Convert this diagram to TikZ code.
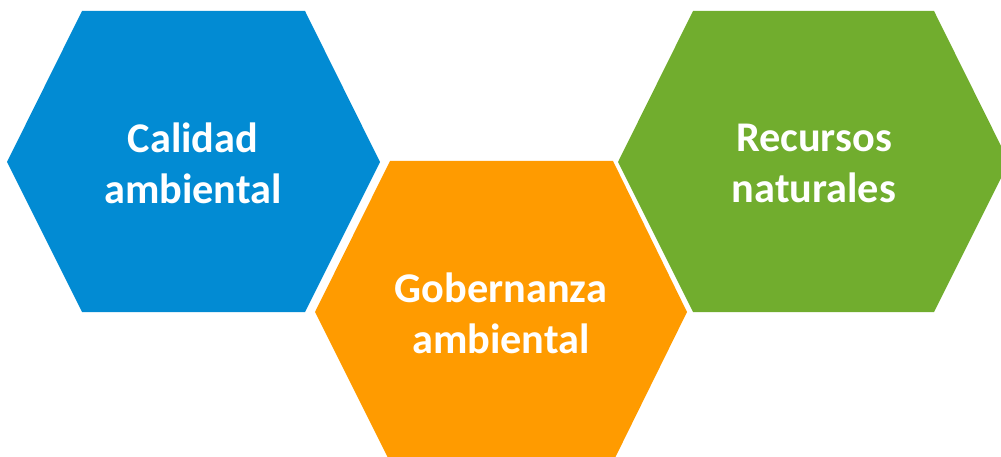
\documentclass[tikz,border=0pt]{standalone}
\usepackage{fontspec}
\setmainfont{Carlito}
\definecolor{calidadblue}{RGB}{2,139,211}
\definecolor{gobernorange}{RGB}{255,155,0}
\definecolor{recursosgreen}{RGB}{113,173,46}

\begin{document}
\begin{tikzpicture}[x=1pt,y=-1pt,
		hexa/.style={fill=#1,draw=none},
		lbl/.style={text=white,align=center,inner sep=0pt,
			font=\fontsize{42.3}{51}\selectfont\bfseries}]
		
		% Page frame
		\useasboundingbox (0,0) rectangle (1001,457);
		\clip (0,0) rectangle (1001,457);
		
		% Blue hexagon: Calidad ambiental
		\path[hexa=calidadblue] (7,162) -- (82,11) -- (305,11) -- (380,162)
		-- (305,312) -- (82,312) -- cycle;
		\node[lbl] (calidad) at (193,163) {Calidad\\ambiental};
		
		% Orange hexagon (cut at the bottom): Gobernanza ambiental
		\path[hexa=gobernorange] (315,312) -- (390,161) -- (613,161) -- (687,312)
		-- (613,462) -- (390,462) -- cycle;
		\node[lbl] (gobernanza) at (501,313) {Gobernanza\\ambiental};
		
		% Green hexagon (cut at the right): Recursos naturales
		\path[hexa=recursosgreen] (618,162) -- (693,11) -- (934,11) -- (1009,162)
		-- (934,312) -- (693,312) -- cycle;
		\node[lbl] (recursos) at (814,163) {Recursos\\naturales};
		
	\end{tikzpicture}
\end{document}
